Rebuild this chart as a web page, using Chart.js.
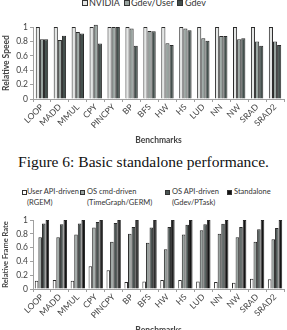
<!DOCTYPE html>
<html><head><meta charset="utf-8">
<script src="https://cdn.jsdelivr.net/npm/chart.js@4/dist/chart.umd.min.js"></script>
<style>
html,body{margin:0;padding:0;background:#fff;width:287px;height:330px;overflow:hidden;position:relative;font-family:Lato,"Open Sans",sans-serif;color:#333}
.cv{position:absolute;left:0}
.leg{position:absolute;white-space:nowrap;color:#333}
.box{position:absolute;box-sizing:border-box;border:1px solid #333}
#cap{position:absolute;left:0;width:287px;top:153px;text-align:center;font-family:"Liberation Serif",serif;font-size:15.5px;line-height:18px;color:#111}
</style></head><body>
<div id="leg1"></div>
<canvas id="c1" class="cv" style="top:0" width="287" height="148"></canvas>
<div id="cap">Figure 6: Basic standalone performance.</div>
<div id="leg2"></div>
<canvas id="c2" class="cv" style="top:193px" width="287" height="145"></canvas>
<script>
// ---- data ----
const categories = ['LOOP','MADD','MMUL','CPY','PINCPY','BP','BFS','HW','HS','LUD','NN','NW','SRAD','SRAD2'];
// Figure 6 (Relative Speed)
const nvidia   = [1,1,1,1,1,1,1,1,1,1,1,1,1,1];
const gdevUser = [0.83,0.82,0.93,1.03,1.0,0.98,0.945,0.775,0.98,0.845,0.875,0.83,0.80,0.80];
const gdev     = [0.83,0.88,0.91,0.77,1.0,0.74,0.94,0.75,0.955,0.81,0.875,0.845,0.74,0.75];
// Second chart (Relative Frame Rate)
const userApi    = [0.12,0.13,0.12,0.33,0.27,0.10,0.11,0.13,0.13,0.11,0.10,0.09,0.15,0.14];
const osCmd      = [0.75,0.75,0.79,0.89,0.685,0.80,0.67,0.575,0.79,0.85,0.80,0.75,0.685,0.72];
const osApi      = [0.95,0.94,0.95,0.97,0.955,0.90,0.89,0.90,0.93,0.94,0.945,0.90,0.865,0.885];
const standalone = [1,1,1,1,1,1,1,1,1,1,1,1,1,1];
const yTicks = [0,0.2,0.4,0.6,0.8,1];

const F = 'Lato, "Open Sans", sans-serif';
const AX = '#a0a0a0';
const TXT = '#444';

function makeScales(yTitle, yTitleSize){
  return {
    x:{
      grid:{offset:true,drawOnChartArea:false,tickLength:3,color:AX},
      border:{color:AX},
      ticks:{autoSkip:false,minRotation:45,maxRotation:45,padding:0,color:TXT,font:{family:F,size:8.5}},
      title:{display:true,text:'Benchmarks',color:TXT,font:{family:F,size:8.5,weight:'bold'},padding:{top:0,bottom:3}},
      afterFit(s){s.height=49;}
    },
    y:{
      min:0,max:1,
      afterBuildTicks(s){s.ticks=yTicks.map(v=>({value:v}));},
      ticks:{padding:2,color:TXT,font:{family:F,size:8.5},callback:v=>String(v)},
      grid:{drawOnChartArea:false,tickLength:3,color:AX},
      border:{color:AX},
      title:{display:true,text:yTitle,color:TXT,font:{family:F,size:yTitleSize,weight:'bold'},padding:{top:1,bottom:0}},
      afterFit(s){s.width=33;}
    }
  };
}
function ds(label,data,color,cp){
  return {label,data,backgroundColor:color,borderColor:'#2a2a2a',borderWidth:1,
          categoryPercentage:cp,barPercentage:1,clip:false};
}
new Chart(document.getElementById('c1'),{
  type:'bar',
  data:{labels:categories,datasets:[
    ds('NVIDIA',nvidia,'#e4e6e5',0.69),
    ds('Gdev/User',gdevUser,'#98a39f',0.69),
    ds('Gdev',gdev,'#44504d',0.69)
  ]},
  options:{responsive:false,animation:false,
    layout:{padding:{top:27,right:3,left:0,bottom:0}},
    plugins:{legend:{display:false},tooltip:{enabled:false}},
    scales:makeScales('Relative Speed',8.5)}
});
new Chart(document.getElementById('c2'),{
  type:'bar',
  data:{labels:categories,datasets:[
    ds('User API-driven (RGEM)',userApi,'#ffffff',0.8),
    ds('OS cmd-driven (TimeGraph/GERM)',osCmd,'#9aa3a0',0.8),
    ds('OS API-driven (Gdev/PTask)',osApi,'#4b5553',0.8),
    ds('Standalone',standalone,'#141414',0.8)
  ]},
  options:{responsive:false,animation:false,
    layout:{padding:{top:27,right:3,left:0,bottom:0}},
    plugins:{legend:{display:false},tooltip:{enabled:false}},
    scales:makeScales('Relative Frame Rate',7.5)}
});
// ---- HTML legends ----
function legend(id, items, font, lh){
  const root=document.getElementById(id);
  items.forEach(it=>{
    const b=document.createElement('div');b.className='box';
    b.style.cssText=`left:${it.bx}px;top:${it.by}px;width:${it.bs}px;height:${it.bs}px;background:${it.c}`;
    root.appendChild(b);
    const t=document.createElement('div');t.className='leg';
    t.style.cssText=`left:${it.tx}px;top:${it.ty}px;font-size:${font}px;line-height:${lh}px`;
    t.innerHTML=it.text;root.appendChild(t);
  });
}
legend('leg1',[
  {bx:82,by:0,bs:6,c:'#e4e6e5',tx:89,ty:-2,text:'NVIDIA'},
  {bx:124,by:0,bs:6,c:'#98a39f',tx:131,ty:-2,text:'Gdev/User'},
  {bx:177,by:0,bs:6,c:'#44504d',tx:185,ty:-2,text:'Gdev'}
],9,10);
legend('leg2',[
  {bx:22,by:190,bs:5,c:'#ffffff',tx:27,ty:187,text:'User API-driven<br>(RGEM)'},
  {bx:80,by:190,bs:5,c:'#9aa3a0',tx:87,ty:187,text:'OS cmd-driven<br>(TimeGraph/GERM)'},
  {bx:165,by:190,bs:5,c:'#4b5553',tx:172,ty:187,text:'OS API-driven<br>(Gdev/PTask)'},
  {bx:227,by:190,bs:5,c:'#141414',tx:234,ty:187,text:'Standalone'}
],7.5,10.5);
</script>
</body></html>
